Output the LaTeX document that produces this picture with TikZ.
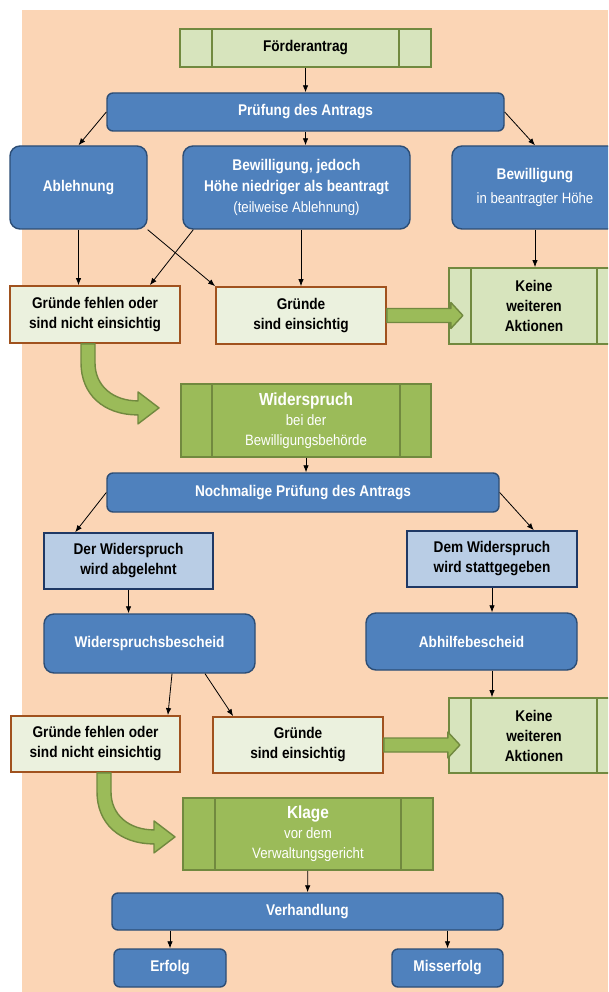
\documentclass[tikz,border=0pt]{standalone}
\usepackage{fontspec}
\setmainfont{Liberation Sans}[FakeStretch=0.88]
\usepackage{tikz}
\usetikzlibrary{calc}
\usetikzlibrary{arrows.meta}
\definecolor{peach}{HTML}{FBD5B5}
\definecolor{boxblue}{HTML}{4F81BD}
\definecolor{lineblue}{HTML}{2C4D75}
\definecolor{paleblue}{HTML}{B9CDE5}
\definecolor{navyline}{HTML}{1F3864}
\definecolor{cream}{HTML}{EBF1DE}
\definecolor{brownline}{HTML}{A0521E}
\definecolor{lightgreen}{HTML}{D7E4BD}
\definecolor{midgreen}{HTML}{9BBB59}
\definecolor{greenline}{HTML}{71893F}
\newcommand{\hdtxt}{\fontsize{15.5}{20}\selectfont\bfseries}
\newcommand{\lotxt}{\fontsize{15}{20}\selectfont\mdseries}
\newcommand{\bigtxt}{\fontsize{17.5}{20}\selectfont\bfseries}
\tikzset{>=latex}
\tikzset{
  box/.style={rectangle, align=center, inner sep=2pt, font=\hdtxt},
  bluebox/.style={box, fill=boxblue, draw=lineblue, line width=1.4, rounded corners=6, text=white},
  bigblue/.style={bluebox, rounded corners=10},
  palebox/.style={box, fill=paleblue, draw=navyline, line width=1.6},
  reasonbox/.style={box, fill=cream, draw=brownline, line width=1.8},
  process/.style={box, draw=greenline, line width=1.8,
    path picture={
      \draw[greenline, line width=1.6]
        ($(path picture bounding box.north west)+(#1,0)$) -- ($(path picture bounding box.south west)+(#1,0)$)
        ($(path picture bounding box.north east)+(-#1,0)$) -- ($(path picture bounding box.south east)+(-#1,0)$);
    }},
  conn/.style={-{Latex[length=7pt,width=5.5pt]}, line width=0.8},
  bigarrow/.style={fill=midgreen, draw=greenline, line width=1.4, line join=round}
}

\begin{document}
\begin{tikzpicture}[x=1pt, y=-1pt]

    % page and background
    \useasboundingbox (0,0) rectangle (608,992);
    \clip (0,0) rectangle (608,992);
    \fill[white] (0,0) rectangle (608,992);
    \fill[peach] (22,10) rectangle (608,992);

    % first stage
    \node[process=32, fill=lightgreen, minimum width=251, minimum height=38] (foe) at (305.5,48) {Förderantrag};
    \node[bluebox, minimum width=397, minimum height=38] (pr1) at (305.5,112) {Prüfung des Antrags};
    \node[bigblue, minimum width=137, minimum height=83] (abl) at (78.5,187.5) {Ablehnung};
    \node[bigblue, minimum width=227, minimum height=83] (bwj) at (296.5,187.5)
        {Bewilligung, jedoch\\[1pt]Höhe niedriger als beantragt\\[1pt]{\lotxt (teilweise Ablehnung)}};
    \node[bigblue, minimum width=166, minimum height=83] (bwv) at (535,187.5)
        {Bewilligung\\[4pt]{\lotxt in beantragter Höhe}};
    \node[reasonbox, minimum width=170, minimum height=57] (gf1) at (95,314.5) {Gründe fehlen oder\\sind nicht einsichtig};
    \node[reasonbox, minimum width=170, minimum height=57] (gs1) at (301,315.5) {Gründe\\sind einsichtig};
    \node[process=22, fill=lightgreen, minimum width=170, minimum height=76] (ke1) at (534,306) {Keine\\weiteren\\Aktionen};

    % Widerspruch
    \node[process=31, fill=midgreen, text=white, minimum width=250, minimum height=73] (wid) at (306,420.5)
        {{\bigtxt Widerspruch}\\{\lotxt bei der}\\{\lotxt Bewilligungsbehörde}};
    \node[bluebox, minimum width=392, minimum height=39] (nop) at (303,492.5) {Nochmalige Prüfung des Antrags};
    \node[palebox, minimum width=169, minimum height=56] (dwa) at (128.5,561) {Der Widerspruch\\wird abgelehnt};
    \node[palebox, minimum width=170, minimum height=56] (dws) at (492,559) {Dem Widerspruch\\wird stattgegeben};
    \node[bigblue, minimum width=211, minimum height=59] (wsb) at (149.5,643.5) {Widerspruchsbescheid};
    \node[bigblue, minimum width=211, minimum height=57] (ahb) at (471.5,641.5) {Abhilfebescheid};
    \node[reasonbox, minimum width=169, minimum height=56] (gf2) at (95.5,744) {Gründe fehlen oder\\sind nicht einsichtig};
    \node[reasonbox, minimum width=170, minimum height=56] (gs2) at (298,745) {Gründe\\sind einsichtig};
    \node[process=22, fill=lightgreen, minimum width=170, minimum height=75] (ke2) at (534,735.5) {Keine\\weiteren\\Aktionen};

    % Klage
    \node[process=32, fill=midgreen, text=white, minimum width=250, minimum height=72] (klg) at (308,834)
        {{\bigtxt Klage}\\{\lotxt vor dem}\\{\lotxt Verwaltungsgericht}};
    \node[bluebox, minimum width=391, minimum height=37] (ver) at (307.5,911.5) {Verhandlung};
    \node[bluebox, minimum width=112, minimum height=38] (erf) at (170,968) {Erfolg};
    \node[bluebox, minimum width=111, minimum height=38] (mis) at (447.5,968) {Misserfolg};

    % thin connectors
    \draw[conn] (foe) -- (pr1);
    \draw[conn] (pr1.west) -- (abl.north);
    \draw[conn] (pr1.south) -- (pr1.south |- bwj.north);
    \draw[conn] (pr1.east) -- (bwv.north);
    \draw[conn] (abl.south) -- (abl.south |- gf1.north);
    \draw[conn] (abl.south east) -- (gs1.north west);
    \draw[conn] ($(bwj.south west)+(11,0)$) -- ($(gf1.north east)+(-31,0)$);
    \draw[conn] (bwj.south -| gs1.north) -- (gs1.north);
    \draw[conn] (bwv.south) -- (bwv.south |- ke1.north);

    \draw[conn] (wid.south) -- (wid.south |- nop.north);
    \draw[conn] (nop.west) -- ($(dwa.north west)+(32,0)$);
    \draw[conn] (nop.east) -- ($(dws.north east)+(-44,0)$);
    \draw[conn] (dwa.south) -- (dwa.south |- wsb.north);
    \draw[conn] (dws.south) -- (dws.south |- ahb.north);
    \draw[conn] ($(wsb.south)+(22.5,0)$) -- ($(gf2.north east)+(-13,0)$);
    \draw[conn] ($(wsb.south)+(55.5,0)$) -- ($(gs2.north west)+(21,0)$);
    \draw[conn] (ahb.south -| dws.south) -- (ke2.north -| dws.south);

    \draw[conn] (klg) -- (ver);
    \draw[conn] (ver.south -| erf.north) -- (erf.north);
    \draw[conn] (ver.south -| mis.north) -- (mis.north);

    % big green arrows
    \foreach \n in {gs1, gs2} {
        \draw[bigarrow, shift={(\n.east)}]
            (0,-7) -- (64,-7) -- (64,-13) -- (76,0) -- (64,13) -- (64,7) -- (0,7) -- cycle;
    }
    \foreach \n/\dx in {gf1/-14, gf2/1.5} {
        \draw[bigarrow, shift={($(\n.south)+(\dx,0)$)}]
            (0,0) -- (0,19) .. controls (0,50) and (22,71) .. (57,71) -- (57,80) -- (78,64)
            -- (57,48) -- (57,57) .. controls (32,57) and (14,42) .. (14,19) -- (14,0) -- cycle;
    }

\end{tikzpicture}
\end{document}
